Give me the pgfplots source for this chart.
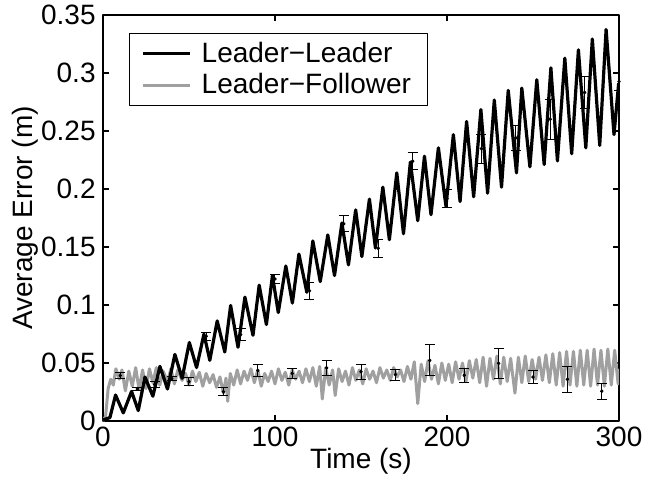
\documentclass[border=0pt]{standalone}
\usepackage{fontspec}
\setmainfont{Liberation Sans}
\usepackage{pgfplots}
\usepackage{pgfplotstable}
\pgfplotsset{compat=1.18}
\definecolor{lfgray}{RGB}{160,160,160}

\pgfplotstableread{
x y e
20 0.0276 0.0015
40 0.0365 0.0017
60 0.0730 0.0032
80 0.0745 0.0053
100 0.1224 0.0036
120 0.1123 0.0074
140 0.1700 0.0068
160 0.1489 0.0078
180 0.2239 0.0075
200 0.1918 0.0079
220 0.2348 0.0126
240 0.2441 0.0110
260 0.2602 0.0171
280 0.2832 0.0136
300 0.2927 0.0081
}\llerr

\pgfplotstableread{
x y e
10 0.0392 0.0024
30 0.0315 0.0024
50 0.0339 0.0037
70 0.0253 0.0037
90 0.0435 0.0053
110 0.0410 0.0043
130 0.0458 0.0062
150 0.0425 0.0066
170 0.0400 0.0047
190 0.0522 0.0134
210 0.0394 0.0060
230 0.0497 0.0130
250 0.0379 0.0060
270 0.0359 0.0115
290 0.0257 0.0068
}\lferr

\begin{document}
\begin{tikzpicture}[font=\fontsize{14}{16}\selectfont]
\useasboundingbox (-51.5pt,-30.5pt) rectangle (282.5pt,210.5pt);
\begin{axis}[at={(0,0)}, anchor=south west, scale only axis,
  width=258pt, height=203pt,
  xmin=0, xmax=300, ymin=0, ymax=0.35,
  xtick={0,100,200,300}, xticklabels={0,100,200,300},
  ytick={0,0.05,0.1,0.15,0.2,0.25,0.3,0.35},
  yticklabels={0,0.05,0.1,0.15,0.2,0.25,0.3,0.35},
  /pgf/number format/assume math mode=true,
  tick align=inside, major tick length=3pt,
  tick style={line width=0.6pt, black},
  axis line style={line width=0.75pt},
  yticklabel style={inner sep=3.5pt},
  xticklabel style={inner sep=3pt},
  xlabel={Time (s)}, ylabel={Average Error (m)},
  xlabel style={at={(axis description cs:0.5,-0.066)}, anchor=north, inner sep=0pt},
  ylabel style={at={(axis description cs:-0.125,0.5)}, anchor=south, inner sep=0pt},
  legend cell align=left,
  legend image code/.code={\draw[#1] (0pt,0pt) -- (23.5pt,0pt);},
  legend style={at={(0.051,0.956)}, anchor=north west, draw=black,
    fill=white, inner xsep=6pt, inner ysep=2.5pt, row sep=0pt, column sep=3pt,
    font=\fontsize{14}{16}\selectfont},
  line join=round,
]
\addlegendimage{black, line width=1.5pt}
\addlegendentry{Leader−Leader}
\addlegendimage{lfgray, line width=1.5pt}
\addlegendentry{Leader−Follower}

\addplot[lfgray, line width=1.5pt, forget plot] coordinates {
(0,0.000) (1.5,0.004) (3,0.028) (4.5,0.036) (6,0.031) (7.5,0.045) (9.5,0.036)
(11,0.044) (13,0.026) (15,0.043) (17,0.030) (19,0.046) (21,0.027) (23,0.044)
(25,0.028) (27,0.045) (29,0.033) (31,0.046) (33,0.031) (35,0.043) (37.5,0.034)
(39.5,0.045) (41.5,0.032) (43.5,0.044) (46,0.035) (48,0.041) (50,0.031) (52,0.043)
(54,0.034) (56,0.042) (58,0.030) (60,0.041) (62,0.033) (64,0.040) (66,0.029)
(68,0.038) (70,0.024) (71.5,0.037) (72.5,0.017) (74,0.041) (76,0.031) (78,0.044)
(80,0.032) (82,0.043) (84,0.035) (86,0.045) (88,0.033) (90,0.044) (92,0.030)
(94,0.041) (96,0.034) (98,0.043) (100,0.032) (102,0.045) (104,0.035) (106,0.042)
(108,0.031) (110,0.044) (112,0.036) (114,0.043) (116,0.033) (118,0.045) (120,0.034)
(122,0.046) (124,0.030) (126,0.047) (127.5,0.019) (129.5,0.046) (131.5,0.031)
(133.5,0.044) (135,0.022) (137,0.045) (139,0.034) (141,0.043) (143,0.031) (145,0.046)
(147,0.035) (149,0.044) (151,0.032) (153,0.045) (155,0.036) (157,0.043) (159,0.033)
(161,0.046) (163,0.037) (165,0.044) (167,0.035) (169,0.046) (171,0.038) (173,0.044)
(175,0.034) (177,0.047) (179,0.036) (181,0.051) (183,0.015) (185,0.049) (187,0.034)
(189,0.052) (191,0.036) (193,0.048) (195,0.032) (197,0.050) (199,0.035) (201,0.049)
(203,0.033) (205,0.051) (207,0.036) (209,0.050) (211,0.034) (213,0.052) (215,0.037)
(217,0.053) (219,0.033) (221,0.055) (223,0.030) (225,0.054) (227,0.036) (229,0.056)
(231,0.032) (233,0.055) (235,0.034) (237,0.054) (239.5,0.024) (241.5,0.055)
(243.5,0.033) (245.5,0.056) (247.5,0.034) (249.5,0.053) (251.5,0.036) (253.5,0.055)
(255.5,0.035) (257.5,0.057) (259.5,0.033) (261.5,0.058) (263.5,0.031) (265.5,0.059)
(267.5,0.030) (269.5,0.060) (271.5,0.031) (273.5,0.060) (275.5,0.030) (277.5,0.061)
(279.5,0.031) (281.5,0.061) (283.5,0.030) (285.5,0.062) (287.5,0.031) (289.5,0.061)
(291.5,0.030) (293.5,0.062) (295.5,0.031) (297.5,0.061) (299.5,0.032) (300,0.045)
};

\addplot[black, line width=1.6pt, forget plot] coordinates {
(0,0.001) (4.0,0.0029) (7.3,0.0224) (11.8,0.0070) (16.6,0.0255) (20.5,0.0090)
(24.4,0.0379) (29.0,0.0214) (33.1,0.0471) (37.5,0.0276) (41.8,0.0574) (46.0,0.0368)
(50.2,0.0677) (54.4,0.0461) (58.7,0.0749) (62.1,0.0523) (66.4,0.0863) (70.8,0.0595)
(74.2,0.0996) (78.5,0.0636) (82.5,0.1068) (87.2,0.0739) (90.8,0.1171) (95.0,0.0832)
(98.5,0.1254) (101.9,0.0935) (106.3,0.1336) (110.1,0.1017) (113.9,0.1439) (118.5,0.1110)
(122.0,0.1552) (126.3,0.1202) (130.7,0.1604) (134.6,0.1254) (138.9,0.1707) (142.7,0.1346)
(146.9,0.1820) (150.5,0.1418) (154.9,0.1913) (158.4,0.1491) (162.7,0.2016) (166.5,0.1563)
(170.8,0.2139) (174.7,0.1614) (178.7,0.2232) (183.0,0.1727) (186.9,0.2283) (190.7,0.1779)
(195.0,0.2355) (199.4,0.1851) (203.7,0.2469) (207.6,0.1892) (211.4,0.2582) (215.5,0.1933)
(219.7,0.2685) (223.6,0.1964) (227.5,0.2767) (231.7,0.2016) (235.6,0.2850) (240.4,0.2139)
(243.5,0.2870) (248.2,0.2191) (252.2,0.2942) (256.5,0.2211) (260.4,0.3045) (264.2,0.2242)
(268.5,0.3128) (272.5,0.2304) (276.4,0.3200) (280.7,0.2355) (284.5,0.3293) (288.8,0.2376)
(292.5,0.3375) (297.1,0.2469) (299.8,0.2912)
};

\addplot[black, only marks, mark=*, mark size=0.7pt, forget plot,
  error bars/.cd, y dir=both, y explicit,
  error bar style={line width=0.5pt, black},
  error mark options={rotate=90, mark size=2.5pt, line width=0.5pt, black}]
  table[x=x, y=y, y error=e] {\llerr};
\addplot[black, only marks, mark=*, mark size=0.7pt, forget plot,
  error bars/.cd, y dir=both, y explicit,
  error bar style={line width=0.5pt, black},
  error mark options={rotate=90, mark size=2.5pt, line width=0.5pt, black}]
  table[x=x, y=y, y error=e] {\lferr};
\end{axis}
\end{tikzpicture}
\end{document}
